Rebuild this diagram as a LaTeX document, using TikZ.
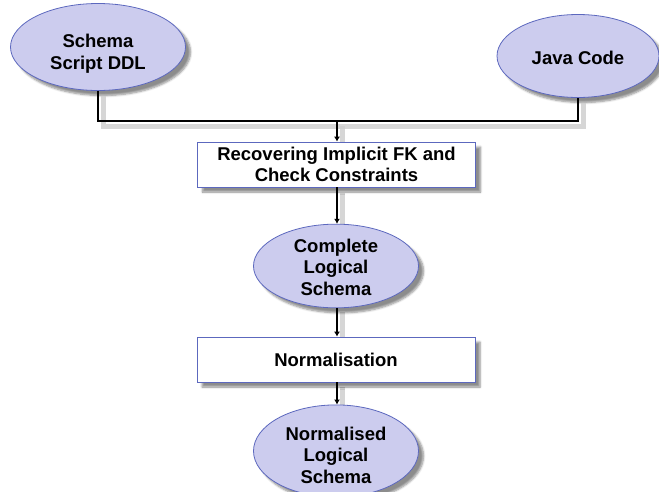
\documentclass[tikz,border=0pt]{standalone}
\usepackage{fontspec}
\setmainfont{Liberation Sans}
\usetikzlibrary{shapes.geometric,shadows.blur,arrows.meta}
\definecolor{nodefill}{RGB}{204,204,238}
\definecolor{nodeline}{RGB}{92,104,190}
% invisible strut that lowers a node's text block
\newcommand{\lowerby}[1]{\rule{0pt}{#1}}
\begin{document}
\begin{tikzpicture}[x=1pt,y=-1pt,
  every node/.style={font=\fontsize{18.5}{21.5}\selectfont\bfseries, align=center},
  datum/.style={ellipse, draw=nodeline, fill=nodefill, line width=0.8pt, inner sep=0pt,
    blur shadow={shadow xshift=5pt, shadow yshift=-5pt, shadow blur steps=6, shadow opacity=45}},
  process/.style={rectangle, draw=nodeline, fill=white, line width=0.8pt, inner sep=0pt,
    minimum width=278pt, minimum height=45pt,
    blur shadow={shadow xshift=5pt, shadow yshift=-5pt, shadow blur steps=6, shadow opacity=45}},
  link/.style={line width=1.8pt, black},
  flow/.style={link, -{Latex[length=5pt,width=6pt]}},
  shade/.style={line width=5pt, black!20, opacity=0.8},
]
\useasboundingbox (0,0) rectangle (659,491);

\node[datum, minimum width=175pt, minimum height=87pt] (ddl) at (98,47) {\lowerby{27pt}Schema\\Script DDL};
\node[datum, minimum width=162pt, minimum height=83pt] (java) at (578,56) {\lowerby{18pt}Java Code};
\coordinate (join) at (337,121);

% connector shadows
\begin{scope}[transform canvas={shift={(5pt,-5pt)}}]
  \draw[shade] (ddl.south) -- (ddl.south |- join) -- (java.south |- join) -- (java.south);
  \draw[shade] (join) -- (337,143);
  \draw[shade] (337,188) -- (337,226);
  \draw[shade] (337,307) -- (337,337);
  \draw[shade] (337,382) -- (337,411);
\end{scope}

\node[process] (recover) at (336.5,164.5) {Recovering Implicit FK and\\Check Constraints};
\node[datum, minimum width=165pt, minimum height=81pt] (logical) at (336,266) {\lowerby{16pt}Complete\\Logical\\Schema};
\node[process] (norm) at (336,359.5) {Normalisation};
\node[datum, minimum width=165pt, minimum height=80pt] (normal) at (336,451) {\lowerby{22pt}Normalised\\Logical\\Schema};

\draw[link] (ddl.south) -- (ddl.south |- join) -- (java.south |- join) -- (java.south);
\draw[flow] (join) -- (join |- recover.north);
\draw[flow] (recover.south -| join) -- (join |- logical.north);
\draw[flow] (logical.south -| join) -- (join |- norm.north);
\draw[flow] (norm.south -| join) -- (join |- normal.north);
\end{tikzpicture}
\end{document}
